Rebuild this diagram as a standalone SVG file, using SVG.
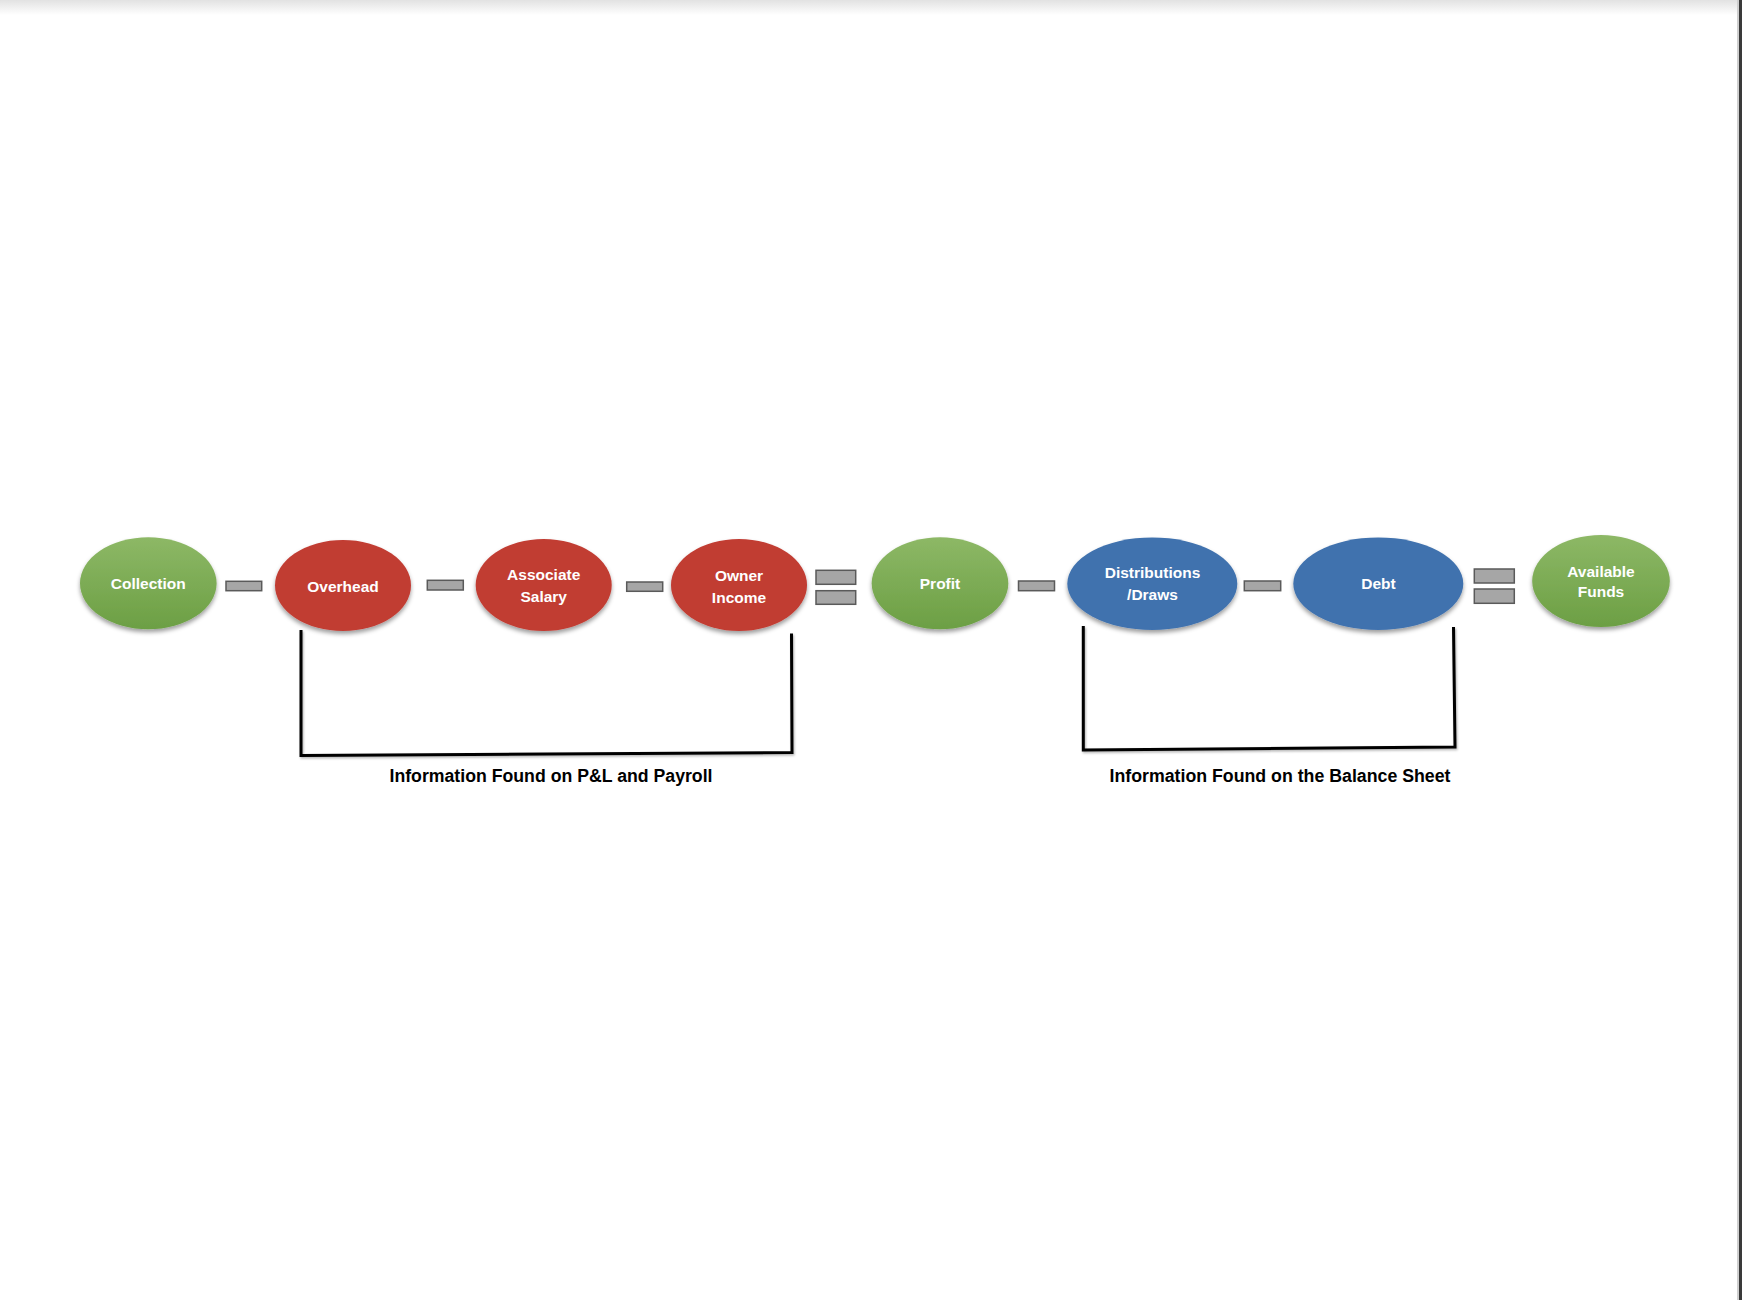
<svg xmlns="http://www.w3.org/2000/svg" width="1742" height="1300" viewBox="0 0 1742 1300">
  <defs>
    <linearGradient id="gGreen" x1="0" y1="0" x2="0" y2="1">
      <stop offset="0" stop-color="#8db866"/>
      <stop offset="1" stop-color="#6c9f44"/>
    </linearGradient>
    <linearGradient id="gTop" x1="0" y1="0" x2="0" y2="1">
      <stop offset="0" stop-color="#e2e2e2"/>
      <stop offset="1" stop-color="#ffffff"/>
    </linearGradient>
    <filter id="shadow" x="-20%" y="-20%" width="140%" height="150%">
      <feDropShadow dx="0" dy="3" stdDeviation="2.2" flood-color="#000" flood-opacity="0.38"/>
    </filter>
    <filter id="lineShadow" x="-10%" y="-10%" width="120%" height="120%">
      <feDropShadow dx="1" dy="1.5" stdDeviation="1" flood-color="#000" flood-opacity="0.3"/>
    </filter>
  </defs>
  <style>
    .green { fill: url(#gGreen); filter: url(#shadow); }
    .red { fill: #c13c33; filter: url(#shadow); }
    .blue { fill: #4172ae; filter: url(#shadow); }
    .lbl { font-family: "Liberation Sans", Arial, sans-serif; font-weight: bold; font-size: 15.5px; fill: #ffffff; text-anchor: middle; }
    .op { fill: #a6a6a6; stroke: #5a5a5a; stroke-width: 1.5; }
    .br { fill: none; stroke: #000000; stroke-width: 3; filter: url(#lineShadow); }
    .cap { font-family: "Liberation Sans", Arial, sans-serif; font-weight: bold; font-size: 17.5px; fill: #000000; text-anchor: middle; }
  </style>

  <rect x="0" y="0" width="1742" height="1300" fill="#ffffff"/>
  <rect x="0" y="0" width="1742" height="15" fill="url(#gTop)"/>
  <rect x="1737" y="0" width="2" height="1300" fill="#cfcfcf"/>
  <rect x="1739" y="0" width="3" height="1300" fill="#3a3a3a"/>

  <g id="node-collection">
    <ellipse class="green" cx="148.3" cy="583.3" rx="68.3" ry="46"/>
    <text class="lbl" x="148.3" y="589">Collection</text>
  </g>
  <g id="node-overhead">
    <ellipse class="red" cx="343" cy="585.5" rx="68" ry="45.5"/>
    <text class="lbl" x="343" y="591.5">Overhead</text>
  </g>
  <g id="node-associate-salary">
    <ellipse class="red" cx="543.7" cy="585" rx="68" ry="46"/>
    <text class="lbl" x="543.7" y="579.5">Associate</text>
    <text class="lbl" x="543.7" y="601.5">Salary</text>
  </g>
  <g id="node-owner-income">
    <ellipse class="red" cx="739" cy="585" rx="68" ry="46"/>
    <text class="lbl" x="739" y="580.5">Owner</text>
    <text class="lbl" x="739" y="602.5">Income</text>
  </g>
  <g id="node-profit">
    <ellipse class="green" cx="940" cy="583.3" rx="68.3" ry="46"/>
    <text class="lbl" x="940" y="589.3">Profit</text>
  </g>
  <g id="node-distributions">
    <ellipse class="blue" cx="1152.3" cy="583.7" rx="85" ry="46.3"/>
    <text class="lbl" x="1152.5" y="578">Distributions</text>
    <text class="lbl" x="1152.5" y="600">/Draws</text>
  </g>
  <g id="node-debt">
    <ellipse class="blue" cx="1378.3" cy="583.7" rx="85" ry="46.3"/>
    <text class="lbl" x="1378.5" y="589.3">Debt</text>
  </g>
  <g id="node-available-funds">
    <ellipse class="green" cx="1601" cy="581" rx="68.8" ry="46"/>
    <text class="lbl" x="1601" y="576.7">Available</text>
    <text class="lbl" x="1601" y="597.3">Funds</text>
  </g>

  <g id="connectors">
    <!-- minus and equals signs between nodes -->
    <rect class="op" x="226" y="581.3" width="35.7" height="9.4"/>
    <rect class="op" x="427.3" y="580.3" width="36" height="9.7"/>
    <rect class="op" x="626.7" y="582" width="36" height="9.3"/>
    <rect class="op" x="816" y="570.3" width="39.7" height="14"/>
    <rect class="op" x="816" y="590.7" width="39.7" height="13.6"/>
    <rect class="op" x="1018.5" y="581" width="36" height="9.7"/>
    <rect class="op" x="1244.3" y="581" width="36.4" height="9.7"/>
    <rect class="op" x="1474.3" y="569" width="40" height="14"/>
    <rect class="op" x="1474.3" y="589" width="40" height="14.3"/>
    <!-- brackets -->
    <path class="br" d="M301 630 L301 755.5 L792 752.5 L791.5 633.5"/>
    <path class="br" d="M1083.3 626 L1083.3 750 L1455 747 L1453.5 627"/>
  </g>

  <g id="captions">
    <text class="cap" x="551" y="781.5" textLength="323" lengthAdjust="spacingAndGlyphs">Information Found on P&amp;L and Payroll</text>
    <text class="cap" x="1280" y="781.5" textLength="341" lengthAdjust="spacingAndGlyphs">Information Found on the Balance Sheet</text>
  </g>
</svg>
